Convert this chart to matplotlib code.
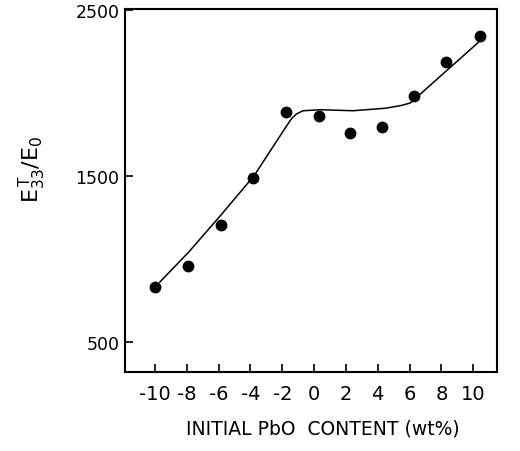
import matplotlib
matplotlib.use("Agg")
import matplotlib.pyplot as plt

# measured data points
pbo_content = [-10.0, -7.95, -5.85, -3.85, -1.75, 0.3, 2.25, 4.3, 6.3, 8.3, 10.45]
permittivity = [833, 960, 1207, 1488, 1884, 1860, 1757, 1793, 1984, 2185, 2342]

# hand-drawn trend curve (key points)
curve_x = [-9.7, -7.9, -5.8, -3.77, -1.72, -1.4, -1.1, -0.7, 0.4, 2.45, 4.47, 5.5, 6.05, 10.33]
curve_y = [861, 1040, 1271, 1502, 1803, 1848, 1874, 1893, 1899, 1893, 1908, 1925, 1940, 2305]

xticks = [-10, -8, -6, -4, -2, 0, 2, 4, 6, 8, 10]
xtick_labels = ["-10", "-8", "-6", "-4", "-2", "0", "2", "4", "6", "8", "10"]
yticks = [500, 1500, 2500]
ytick_labels = ["500", "1500", "2500"]

W, H = 520, 452
fig = plt.figure(figsize=(W / 100, H / 100), dpi=100)
left, right, top, bottom = 125, 497, 10, 373
ax = fig.add_axes([left / W, 1 - bottom / H, (right - left) / W, (bottom - top) / H])

ax.plot(curve_x, curve_y, color="black", lw=1.1)
ax.plot(pbo_content, permittivity, "o", color="black", ms=7.5)

ax.set_xlim(-11.89, 11.5)
ax.set_ylim(319, 2506)
ax.set_xticks(xticks)
ax.set_xticklabels(xtick_labels)
ax.set_yticks(yticks)
ax.set_yticklabels(ytick_labels)

for s in ax.spines.values():
    s.set_linewidth(1.5)
ax.tick_params(direction="in", length=6, width=1.2, pad=4, colors="black")
ax.tick_params(axis="x", pad=9)

fnt = ["Liberation Sans Narrow", "DejaVu Sans"]
for lab in ax.get_xticklabels():
    lab.set_family(fnt)
    lab.set_fontsize(14)
for lab in ax.get_yticklabels():
    lab.set_family("DejaVu Sans")
    lab.set_fontsize(12.5)

fig.text(323 / W, 1 - 429 / H, "INITIAL PbO  CONTENT (wt%)", ha="center", va="center",
         fontsize=13.5, family="DejaVu Sans")
fig.text(32 / W, 1 - 169 / H, r"$\mathrm{E_{33}^{\,T}/E_0}$", ha="center", va="center",
         rotation=90, fontsize=16)

fig.savefig("out.png", dpi=100)
